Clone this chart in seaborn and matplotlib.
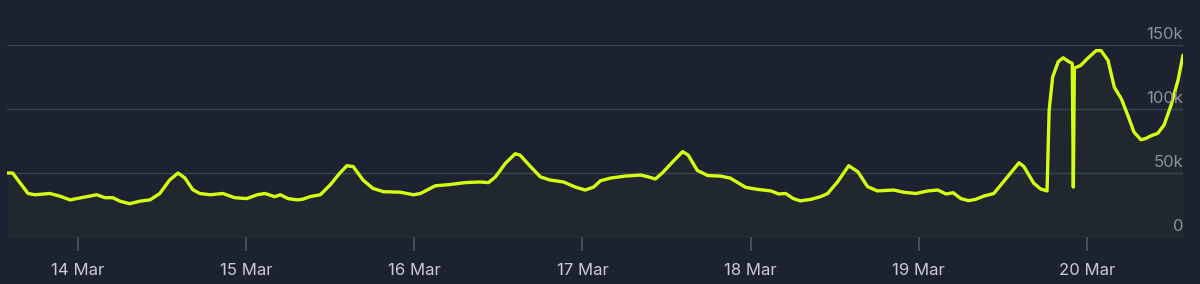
import numpy as np
import pandas as pd
import matplotlib
matplotlib.use("Agg")
import matplotlib.pyplot as plt
import matplotlib.dates as mdates
import seaborn as sns

# hours since 13 Mar 00:00
hours = [13.9, 14.7, 16.9, 17.9, 20.0, 21.4, 22.9, 24.3, 25.7, 26.7, 27.9, 29.0, 30.0, 31.4,
         32.9, 34.3, 35.7, 37.1, 38.3, 39.3, 40.4, 41.4, 42.9, 44.7, 46.4, 48.1, 49.6, 50.7,
         52.1, 52.9, 54.0, 55.3, 56.1, 57.1, 58.6, 60.0, 61.4, 62.4, 63.3, 64.7, 66.1, 67.6,
         70.0, 71.9, 72.9, 75.0, 77.1, 79.3, 81.4, 82.6, 83.6, 85.0, 86.4, 87.1, 88.6, 90.0,
         91.4, 93.3, 95.0, 96.4, 97.6, 98.6, 100.0, 102.1, 104.3, 105.4, 106.4, 107.4, 108.9,
         110.3, 111.1, 112.4, 113.9, 115.7, 117.1, 119.3, 121.0, 122.9, 124.0, 125.0, 126.1,
         127.1, 128.6, 130.0, 131.0, 132.4, 134.0, 135.3, 136.7, 138.1, 140.4, 141.9, 143.6,
         145.3, 146.7, 147.9, 148.9, 150.0, 151.1, 152.1, 153.3, 154.7, 155.7, 157.1, 158.3,
         159.0, 160.4, 161.4, 162.3, 162.6, 163.1, 163.9, 164.6, 165.4, 165.9, 166.05, 166.2,
         167.1, 168.1, 169.3, 170.0, 171.0, 171.9, 172.9, 173.9, 174.7, 175.7, 176.4, 177.1,
         178.1, 179.0, 180.0, 181.0, 181.7]
players_k = [50, 50, 34, 33, 34, 32, 29, 30.5, 32, 33, 30.7, 30.7, 28, 26,
             28, 29, 34, 44.5, 50, 46, 37, 34, 33, 34, 30.7, 30, 33, 34,
             31.5, 33, 30, 29, 29.5, 31.5, 33, 40.6, 50, 55.7, 55, 44.5, 38, 35.4,
             35, 33, 34, 40, 41, 42.5, 43, 42.5, 47, 57.5, 65, 64, 55, 47,
             44.5, 43, 39, 36.7, 39, 44, 46, 47.6, 48.4, 47, 45.3, 50, 58.8,
             66.7, 64, 52, 48, 47.6, 46, 38.8, 37.2, 36, 33.6, 34, 30,
             28.2, 29.4, 31.5, 34, 43, 55.7, 51, 39.3, 36, 36.7, 34.9, 34,
             36, 36.7, 33.6, 34.6, 30, 28.4, 29.4, 32, 34, 40.6, 50, 58,
             55, 42, 37.5, 36, 99, 125, 137, 140, 137, 135.7, 39, 132,
             134, 139.6, 145.6, 145.6, 138, 117, 108, 94, 82, 76, 77, 79,
             81, 87.5, 103, 122.7, 142]
ytick_values = [0, 50000, 100000, 150000]
ytick_labels = ["0", "50k", "100k", "150k"]
xtick_days = ["2024-03-14", "2024-03-15", "2024-03-16", "2024-03-17",
              "2024-03-18", "2024-03-19", "2024-03-20"]
xtick_labels = ["14 Mar", "15 Mar", "16 Mar", "17 Mar", "18 Mar", "19 Mar", "20 Mar"]

start = pd.Timestamp("2024-03-13")
df = pd.DataFrame({
    "time": start + pd.to_timedelta(hours, unit="h"),
    "players": np.array(players_k) * 1000,
})

BG = "#1c2230"
LINE = "#d4ff12"
GRID = "#3a4150"

sns.set_theme(style="dark")
plt.rcParams["font.family"] = ["Inter", "DejaVu Sans"]

fig = plt.figure(figsize=(12, 2.84), dpi=100, facecolor=BG)
ax = fig.add_axes([7 / 1200, 47 / 284, 1176 / 1200, 192 / 284])
ax.set_facecolor(BG)

ax.fill_between(df["time"], df["players"], 0, color=LINE, alpha=0.025, lw=0)
sns.lineplot(data=df, x="time", y="players", ax=ax, color=LINE, lw=2.4,
             solid_joinstyle="round", solid_capstyle="round")

ax.set_xlim(df["time"].iloc[0], df["time"].iloc[-1])
ax.set_ylim(0, 150000)
ax.set_xlabel("")
ax.set_ylabel("")
for s in ax.spines.values():
    s.set_visible(False)

ax.set_yticks(ytick_values)
ax.set_yticklabels([])
ax.tick_params(axis="y", length=0)
for v in ytick_values:
    ax.axhline(v, color=GRID, lw=1.0, zorder=0.5)
for v, lab in zip(ytick_values, ytick_labels):
    ax.text(1.0, v + 2500, lab, transform=ax.get_yaxis_transform(), ha="right",
            va="bottom", color="#8b919d", fontsize=12, clip_on=False)

ax.set_xticks(pd.to_datetime(xtick_days))
ax.set_xticklabels(xtick_labels)
ax.tick_params(axis="x", length=10, width=1.3, color="#4a5161", pad=9,
               labelcolor="#c9ccd3", labelsize=12, bottom=True)
ax.grid(False)

fig.savefig("out.png", dpi=100, facecolor=BG)
